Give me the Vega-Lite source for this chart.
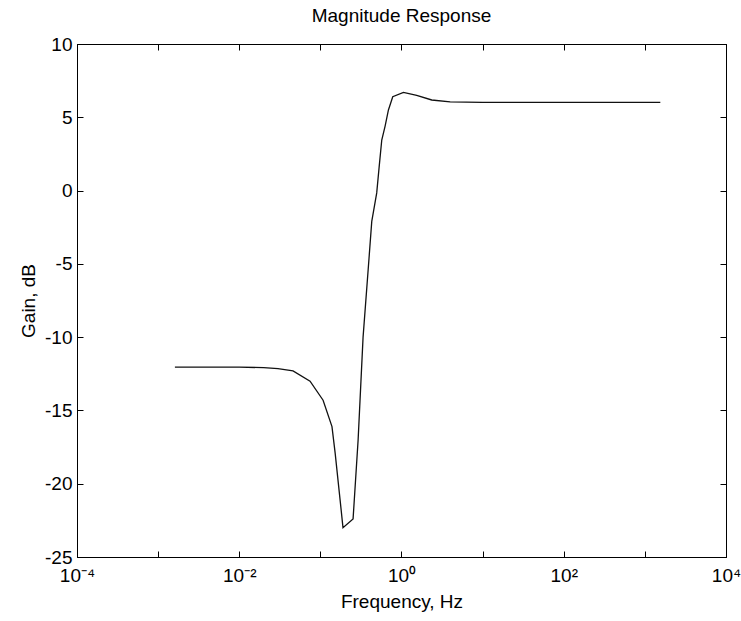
{
  "$schema": "https://vega.github.io/schema/vega-lite/v6.json",
  "width": 649,
  "height": 513,
  "autosize": {"type": "none"},
  "padding": {"left": 77, "top": 44, "right": 15, "bottom": 64},
  "background": "white",
  "title": {"text": "Magnitude Response", "fontSize": 19, "fontWeight": "normal", "font": "Liberation Sans", "color": "black", "offset": 9},
  "data": {"values": [
    {"f": 0.00161, "gain": -12.04},
    {"f": 0.005, "gain": -12.04},
    {"f": 0.01, "gain": -12.05},
    {"f": 0.02, "gain": -12.08},
    {"f": 0.03, "gain": -12.15},
    {"f": 0.046, "gain": -12.3},
    {"f": 0.0746, "gain": -13.0},
    {"f": 0.108, "gain": -14.3},
    {"f": 0.139, "gain": -16.1},
    {"f": 0.152, "gain": -17.9},
    {"f": 0.175, "gain": -21.1},
    {"f": 0.19, "gain": -23.0},
    {"f": 0.253, "gain": -22.4},
    {"f": 0.292, "gain": -17.0},
    {"f": 0.336, "gain": -10.0},
    {"f": 0.398, "gain": -4.6},
    {"f": 0.43, "gain": -2.1},
    {"f": 0.495, "gain": -0.16},
    {"f": 0.53, "gain": 1.6},
    {"f": 0.571, "gain": 3.45},
    {"f": 0.628, "gain": 4.4},
    {"f": 0.69, "gain": 5.5},
    {"f": 0.78, "gain": 6.4},
    {"f": 1.057, "gain": 6.7},
    {"f": 1.54, "gain": 6.5},
    {"f": 2.36, "gain": 6.18},
    {"f": 3.98, "gain": 6.05},
    {"f": 10, "gain": 6.02},
    {"f": 100, "gain": 6.02},
    {"f": 1550, "gain": 6.02}
  ]},
  "layer": [
    {
      "mark": {"type": "line", "color": "#111111", "strokeWidth": 1.3, "clip": true},
      "encoding": {
        "x": {"field": "f", "type": "quantitative",
          "scale": {"type": "log", "domain": [0.0001, 10000], "nice": false},
          "axis": {"orient": "bottom", "title": "Frequency, Hz", "values": [0.0001, 0.001, 0.01, 0.1, 1, 10, 100, 1000, 10000],
            "labelExpr": "round(log(datum.value)/LN10)==-4 ? '10⁻⁴' : round(log(datum.value)/LN10)==-2 ? '10⁻²' : round(log(datum.value)/LN10)==0 ? '10⁰' : round(log(datum.value)/LN10)==2 ? '10²' : round(log(datum.value)/LN10)==4 ? '10⁴' : ''",
            "labelPadding": 15, "titlePadding": 7, "labelFlush": false, "labelOverlap": false}},
        "y": {"field": "gain", "type": "quantitative",
          "scale": {"domain": [-25, 10], "nice": false, "zero": false},
          "axis": {"orient": "left", "title": "Gain, dB", "values": [-25, -20, -15, -10, -5, 0, 5, 10],
            "labelExpr": "'' + datum.value", "labelPadding": 11, "titlePadding": 6}}
      }
    },
    {
      "mark": {"type": "line", "opacity": 0},
      "encoding": {
        "x": {"field": "f", "type": "quantitative",
          "axis": {"orient": "top", "title": null, "labels": false, "values": [0.0001, 0.001, 0.01, 0.1, 1, 10, 100, 1000, 10000]}},
        "y": {"field": "gain", "type": "quantitative",
          "axis": {"orient": "right", "title": null, "labels": false, "values": [-25, -20, -15, -10, -5, 0, 5, 10]}}
      }
    }
  ],
  "resolve": {"axis": {"x": "independent", "y": "independent"}},
  "config": {
    "view": {"stroke": "black", "strokeWidth": 1},
    "axis": {
      "grid": false,
      "domainColor": "black",
      "tickColor": "black",
      "tickSize": -6,
      "labelColor": "black",
      "titleColor": "black",
      "labelFont": "Liberation Sans",
      "titleFont": "Liberation Sans",
      "labelFontSize": 19,
      "titleFontSize": 19,
      "titleFontWeight": "normal"
    }
  }
}
